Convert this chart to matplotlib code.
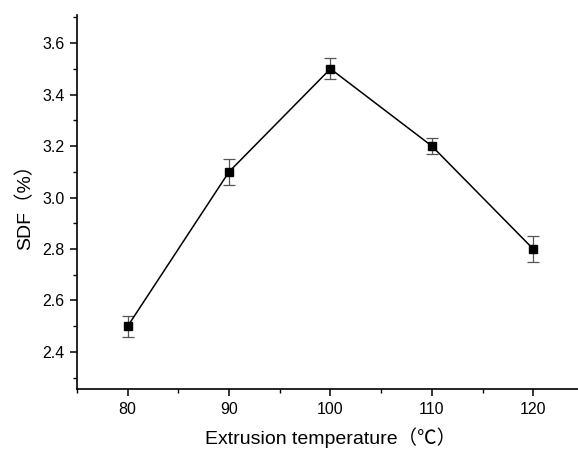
import numpy as np
import matplotlib
matplotlib.use("Agg")
import matplotlib.pyplot as plt
from matplotlib.ticker import MultipleLocator, FormatStrFormatter

plt.rcParams['font.family'] = ['Liberation Sans', 'Noto Sans CJK SC', 'DejaVu Sans']

temps = [80, 90, 100, 110, 120]
sdf = [2.50, 3.10, 3.50, 3.20, 2.80]
sdf_err = [0.04, 0.05, 0.04, 0.03, 0.05]

fig = plt.figure(figsize=(5.78, 4.49), dpi=100)
ax = fig.add_axes([0.1332, 0.1336, 0.877, 0.833])

ax.errorbar(temps, sdf, yerr=sdf_err, color="black", lw=1.1,
            marker="s", ms=6, mfc="black", mec="black",
            ecolor="#555555", elinewidth=0.9, capsize=4, capthick=0.9)

ax.set_xlim(75, 125)
ax.set_ylim(2.256, 3.709)
ax.xaxis.set_major_locator(MultipleLocator(10))
ax.xaxis.set_minor_locator(MultipleLocator(5))
ax.yaxis.set_major_locator(MultipleLocator(0.2))
ax.yaxis.set_minor_locator(MultipleLocator(0.1))
ax.yaxis.set_major_formatter(FormatStrFormatter("%.1f"))

for s in ("top", "right"):
    ax.spines[s].set_visible(False)
for s in ("left", "bottom"):
    ax.spines[s].set_linewidth(1.2)
ax.tick_params(which="major", direction="out", length=5, width=1.1, labelsize=11.5, pad=4)
ax.tick_params(which="minor", direction="out", length=3, width=1.0)

ax.set_xlabel("Extrusion temperature（℃）", fontsize=14, labelpad=8)
ax.set_ylabel("SDF（%）", fontsize=14, labelpad=6)

fig.savefig("out.png", dpi=100)
